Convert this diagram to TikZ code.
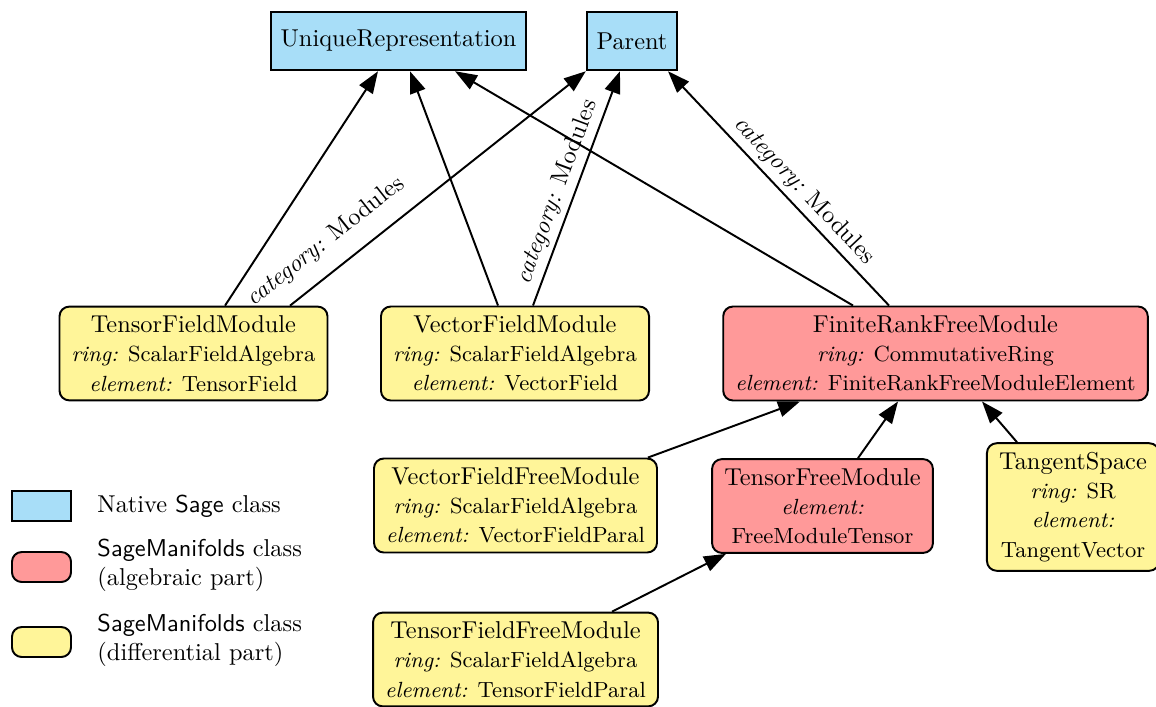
\documentclass[tikz,border=0pt]{standalone}
\usetikzlibrary{arrows.meta,calc}
\definecolor{nativeblue}{RGB}{168,222,248}
\definecolor{algred}{RGB}{255,153,153}
\definecolor{diffyellow}{RGB}{255,245,153}
\tikzset{
  native/.style={draw,thick,fill=nativeblue,inner xsep=4pt,minimum height=24pt},
  algebraic/.style={draw,thick,fill=algred,rounded corners=4pt,align=center,inner xsep=5pt,inner ysep=3.7pt},
  differential/.style={draw,thick,fill=diffyellow,rounded corners=4pt,align=center,inner xsep=5pt,inner ysep=3.7pt},
  inherits/.style={thick,-{Triangle[length=9pt,width=6.5pt]}},
  catlabel/.style={sloped,above,inner sep=2pt},
  keytext/.style={anchor=west,align=left,inner sep=0pt}
}
\begin{document}
\begin{tikzpicture}[x=0.41pt,y=-0.41pt]
\useasboundingbox (0,0) rectangle (1156,706);
%
\node[native](ur) at (398.5,41) {UniqueRepresentation};
\node[native](parent) at (632,41) {Parent};
%
\node[differential](tfm) at (193.5,353.5) {TensorFieldModule\\ \small\textit{ring:} ScalarFieldAlgebra\\ \small\textit{element:} TensorField};
\draw[inherits]($(tfm.north)+(31.5,0)$) -- ($(ur.south)+(-20.5,0)$);
\draw[inherits]($(tfm.north)+(96.5,0)$) -- node[catlabel,pos=0.18,above=4.5pt]{\textit{category:} Modules} (parent.south west);
%
\node[differential](vfm) at (515,353.5) {VectorFieldModule\\ \small\textit{ring:} ScalarFieldAlgebra\\ \small\textit{element:} VectorField};
\draw[inherits]($(vfm.north)+(-17,0)$) -- ($(ur.south)+(11.5,0)$);
\draw[inherits]($(vfm.north)+(18,0)$) -- node[catlabel,pos=0.46]{\textit{category:} Modules} ($(parent.south)+(-12,0)$);
%
\node[algebraic](frfm) at (935.5,353.5) {FiniteRankFreeModule\\ \small\textit{ring:} CommutativeRing\\ \small\textit{element:} FiniteRankFreeModuleElement};
\draw[inherits]($(frfm.north)+(-82.5,0)$) -- ($(ur.south)+(56.5,0)$);
\draw[inherits]($(frfm.north)+(-46.5,0)$) -- node[catlabel,pos=0.44]{\textit{category:} Modules} ($(parent.south)+(36,0)$);
%
\node[differential](vffm) at (515.5,505.5) {VectorFieldFreeModule\\ \small\textit{ring:} ScalarFieldAlgebra\\ \small\textit{element:} VectorFieldParal};
\draw[inherits]($(vffm.north)+(132.5,0)$) -- ($(frfm.south)+(-135.5,0)$);
%
\node[algebraic](tfreem) at (822.5,506) {TensorFreeModule\\ \small\textit{element:}\\ \small FreeModuleTensor};
\draw[inherits]($(tfreem.north)+(35.5,0)$) -- ($(frfm.south)+(-37.5,0)$);
%
\node[differential](ts) at (1073,507) {TangentSpace\\ \small\textit{ring:} SR\\ \small\textit{element:}\\ \small TangentVector};
\draw[inherits]($(ts.north)+(-56,0)$) -- ($(frfm.south)+(46.5,0)$);
%
\node[differential](tffm) at (515.5,659.5) {TensorFieldFreeModule\\ \small\textit{ring:} ScalarFieldAlgebra\\ \small\textit{element:} TensorFieldParal};
\draw[inherits]($(tffm.north)+(96.5,0)$) -- ($(tfreem.south)+(-96.5,0)$);
%
% legend
\node[draw,thick,fill=nativeblue,minimum width=24.2pt,minimum height=12.3pt](natkey) at (41.5,506) {};
\node[keytext](nattext) at (97,506) {Native \textsf{Sage} class};
%
\node[draw,thick,fill=algred,rounded corners=4pt,minimum width=24.2pt,minimum height=12.3pt](algkey) at (41.5,567) {};
\node[keytext](algtext) at (97,565) {\textsf{SageManifolds} class\\ (algebraic part)};
%
\node[draw,thick,fill=diffyellow,rounded corners=4pt,minimum width=24.2pt,minimum height=12.3pt](diffkey) at (41.5,642) {};
\node[keytext](difftext) at (97,640) {\textsf{SageManifolds} class\\ (differential part)};
\end{tikzpicture}
\end{document}
